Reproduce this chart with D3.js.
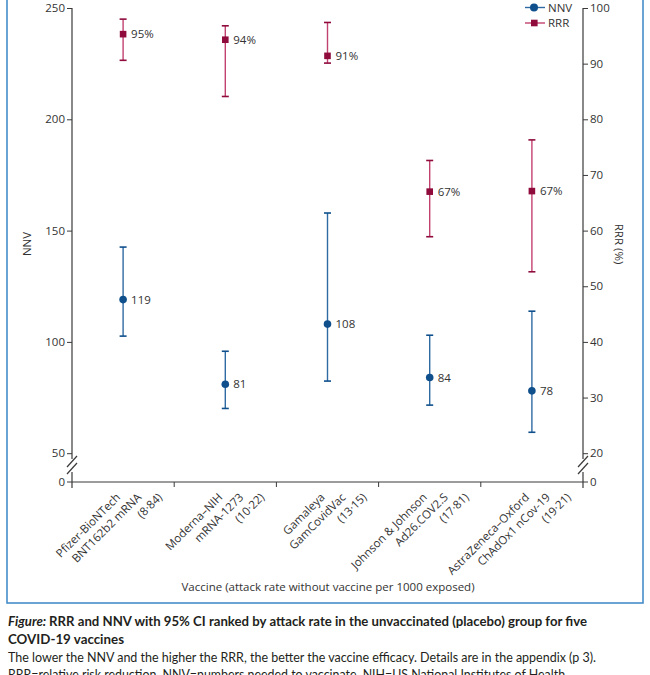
<!DOCTYPE html>
<html>
<head>
<meta charset="utf-8">
<script src="https://cdn.jsdelivr.net/npm/d3@7"></script>
<style>
  html, body { margin: 0; padding: 0; background: #fff; }
  svg { display: block; }
</style>
</head>
<body>
<svg id="chart" width="650" height="675"></svg>
<script>
// ---------- data ----------
const vaccineNames = [
  ["Pfizer-BioNTech", "BNT162b2 mRNA", "(8·84)"],
  ["Moderna–NIH", "mRNA-1273", "(10·22)"],
  ["Gamaleya", "GamCovidVac", "(13·15)"],
  ["Johnson & Johnson", "Ad26.COV2.S", "(17·81)"],
  ["AstraZeneca–Oxford", "ChAdOx1 nCov-19", "(19·21)"]
];
const nnv      = [119, 81, 108, 84, 78];
const nnvLow   = [102.6, 70.1, 82.4, 71.6, 59.4];
const nnvHigh  = [142.6, 95.8, 157.9, 103.0, 113.8];
const rrr      = [95.3, 94.3, 91.4, 67.0, 67.1];
const rrrLow   = [90.6, 84.1, 90.1, 58.9, 52.6];
const rrrHigh  = [98.0, 96.8, 97.4, 72.6, 76.3];
const nnvTicks = [50, 100, 150, 200, 250];
const rrrTicks = [20, 30, 40, 50, 60, 70, 80, 90, 100];
const xTitle = "Vaccine (attack rate without vaccine per 1000 exposed)";
const captionLines = [
  "RRR and NNV with 95% CI ranked by attack rate in the unvaccinated (placebo) group for five",
  "COVID-19 vaccines",
  "The lower the NNV and the higher the RRR, the better the vaccine efficacy. Details are in the appendix (p 3).",
  "RRR=relative risk reduction. NNV=numbers needed to vaccinate. NIH=US National Institutes of Health."
];

(function () {
// ---------- layout ----------
const svg = d3.select("#chart");
const FONT = "'Open Sans', sans-serif";
const textCol = "#333";
const axisCol = "#3a3a3a";
const blueDark = "#0f4f8c", blueLine = "#2f6aa3";
const redDark = "#8e0b3c", redLine = "#c2426f";

const pLeft = 72, pRight = 583, pTop = 8, y50 = 453.2, yZero = 482;

// frame
svg.append("rect").attr("x", 7).attr("y", -5).attr("width", 636).attr("height", 608)
  .attr("fill", "#fff").attr("stroke", "#3a86c6").attr("stroke-width", 1.5);

const idx = d3.range(vaccineNames.length);
const x = d3.scaleBand().domain(idx).range([pLeft, pRight]);
const yL = d3.scaleLinear().domain([50, 250]).range([y50, pTop]);
const yR = d3.scaleLinear().domain([20, 100]).range([y50, pTop]);

// ---------- axes ----------
function styleAxis(g) {
  g.select(".domain").remove();
  g.selectAll(".tick line").attr("stroke", axisCol);
  g.selectAll(".tick text").attr("fill", textCol).style("font-family", FONT).style("font-size", "11.5px");
}
const gL = svg.append("g").attr("transform", `translate(${pLeft},0)`)
  .call(d3.axisLeft(yL).tickValues(nnvTicks).tickSize(5).tickPadding(2));
styleAxis(gL);
const gR = svg.append("g").attr("transform", `translate(${pRight},0)`)
  .call(d3.axisRight(yR).tickValues(rrrTicks).tickSize(5).tickPadding(2));
styleAxis(gR);

// zero ticks below break
function zeroTick(xp, dir) {
  svg.append("line").attr("x1", xp).attr("x2", xp + dir * 5).attr("y1", yZero).attr("y2", yZero).attr("stroke", axisCol);
  svg.append("text").attr("x", xp + dir * 7).attr("y", yZero).attr("dy", "0.35em")
    .attr("text-anchor", dir < 0 ? "end" : "start")
    .attr("fill", textCol).style("font-family", FONT).style("font-size", "11.5px").text("0");
}
zeroTick(pLeft, -1);
zeroTick(pRight, 1);

// vertical axis lines with breaks
function vAxis(xp) {
  svg.append("line").attr("x1", xp).attr("x2", xp).attr("y1", pTop).attr("y2", 459).attr("stroke", axisCol).attr("stroke-width", 1.2);
  svg.append("line").attr("x1", xp).attr("x2", xp).attr("y1", 472).attr("y2", yZero + 6).attr("stroke", axisCol).attr("stroke-width", 1.2);
  svg.append("line").attr("x1", xp - 5).attr("x2", xp + 5).attr("y1", 467).attr("y2", 456).attr("stroke", axisCol).attr("stroke-width", 1.2);
  svg.append("line").attr("x1", xp - 5).attr("x2", xp + 5).attr("y1", 474).attr("y2", 463).attr("stroke", axisCol).attr("stroke-width", 1.2);
}
vAxis(pLeft);
vAxis(pRight);

// x axis
svg.append("line").attr("x1", pLeft).attr("x2", pRight).attr("y1", yZero).attr("y2", yZero).attr("stroke", axisCol).attr("stroke-width", 1.2);
idx.slice(1).forEach(i => {
  svg.append("line").attr("x1", x(i)).attr("x2", x(i)).attr("y1", yZero).attr("y2", yZero + 5).attr("stroke", axisCol);
});

// x labels, rotated
idx.forEach(i => {
  const cx = x(i) + x.bandwidth() / 2;
  const g = svg.append("g").attr("transform", `translate(${cx - 2},${yZero + 16}) rotate(-45)`);
  vaccineNames[i].forEach((ln, j) => {
    g.append("text").attr("x", j * 14.8).attr("y", j * 14.8).attr("text-anchor", "end")
      .attr("fill", textCol).style("font-family", FONT).style("font-size", "11.5px").text(ln);
  });
});

// axis titles
svg.append("text").attr("x", 328).attr("y", 591).attr("text-anchor", "middle")
  .attr("fill", textCol).style("font-family", FONT).style("font-size", "11.5px").text(xTitle);
svg.append("text").attr("transform", "translate(31,244) rotate(-90)").attr("text-anchor", "middle")
  .attr("fill", textCol).style("font-family", FONT).style("font-size", "11.5px").text("NNV");
svg.append("text").attr("transform", "translate(615,244) rotate(90)").attr("text-anchor", "middle")
  .attr("fill", textCol).style("font-family", FONT).style("font-size", "11.5px").text("RRR (%)");

// ---------- error bars ----------
function errorBars(vals, lo, hi, scale, lineCol, darkCol, shape, labelFmt) {
  idx.forEach(i => {
    const cx = x(i) + x.bandwidth() / 2;
    svg.append("line").attr("x1", cx).attr("x2", cx).attr("y1", scale(lo[i])).attr("y2", scale(hi[i]))
      .attr("stroke", lineCol).attr("stroke-width", 1.4);
    [lo[i], hi[i]].forEach(v => {
      svg.append("line").attr("x1", cx - 3.5).attr("x2", cx + 3.5).attr("y1", scale(v)).attr("y2", scale(v))
        .attr("stroke", darkCol).attr("stroke-width", 1.6);
    });
    if (shape === "circle") {
      svg.append("circle").attr("cx", cx).attr("cy", scale(vals[i])).attr("r", 3.8).attr("fill", darkCol);
    } else {
      svg.append("rect").attr("x", cx - 3.3).attr("y", scale(vals[i]) - 3.3).attr("width", 6.6).attr("height", 6.6).attr("fill", darkCol);
    }
    svg.append("text").attr("x", cx + 8).attr("y", scale(vals[i])).attr("dy", "0.35em")
      .attr("fill", textCol).style("font-family", FONT).style("font-size", "11.5px").text(labelFmt(vals[i]));
  });
}
errorBars(nnv, nnvLow, nnvHigh, yL, blueLine, blueDark, "circle", v => Math.round(v));
errorBars(rrr, rrrLow, rrrHigh, yR, redLine, redDark, "square", v => Math.round(v) + "%");

// ---------- legend ----------
const lg = [
  { name: "NNV", y: 7.5, line: blueLine, dark: blueDark, shape: "circle" },
  { name: "RRR", y: 23, line: redLine, dark: redDark, shape: "square" }
];
lg.forEach(d => {
  svg.append("line").attr("x1", 525).attr("x2", 545).attr("y1", d.y).attr("y2", d.y).attr("stroke", d.line).attr("stroke-width", 1.4);
  if (d.shape === "circle") svg.append("circle").attr("cx", 534).attr("cy", d.y).attr("r", 4).attr("fill", d.dark);
  else svg.append("rect").attr("x", 531).attr("y", d.y - 3.3).attr("width", 6.6).attr("height", 6.6).attr("fill", d.dark);
  svg.append("text").attr("x", 548).attr("y", d.y).attr("dy", "0.35em")
    .attr("fill", textCol).style("font-family", FONT).style("font-size", "11.5px").text(d.name);
});

// ---------- caption ----------
const CAP = "Lato, sans-serif";
const c1 = svg.append("text").attr("x", 8).attr("y", 626).attr("fill", "#231f20")
  .style("font-family", CAP).style("font-size", "13.5px").style("font-weight", "bold")
  .attr("textLength", 579).attr("lengthAdjust", "spacingAndGlyphs");
c1.append("tspan").style("font-style", "italic").text("Figure: ");
c1.append("tspan").text(captionLines[0]);
svg.append("text").attr("x", 8).attr("y", 644).attr("fill", "#231f20")
  .style("font-family", CAP).style("font-size", "13.5px").style("font-weight", "bold")
  .attr("textLength", 116).attr("lengthAdjust", "spacingAndGlyphs").text(captionLines[1]);
svg.append("text").attr("x", 8).attr("y", 662).attr("fill", "#231f20")
  .style("font-family", CAP).style("font-size", "13.5px")
  .attr("textLength", 588).attr("lengthAdjust", "spacingAndGlyphs").text(captionLines[2]);
svg.append("text").attr("x", 8).attr("y", 679).attr("fill", "#231f20")
  .style("font-family", CAP).style("font-size", "13.5px")
  .attr("textLength", 560).attr("lengthAdjust", "spacingAndGlyphs").text(captionLines[3]);
})();
</script>
</body>
</html>
